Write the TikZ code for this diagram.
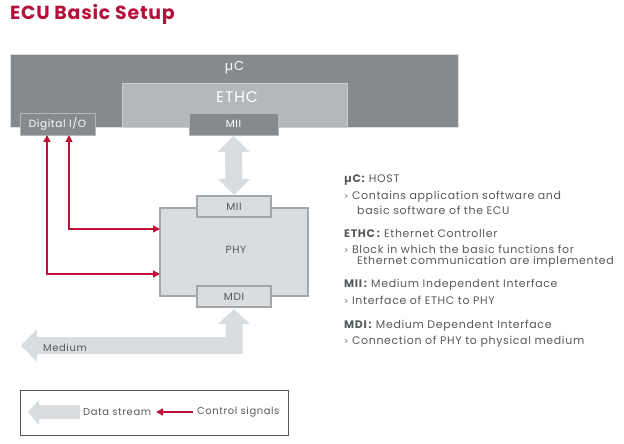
\documentclass[tikz,border=0pt]{standalone}
\usepackage{fontspec}
\setmainfont{Poppins}[LetterSpace=6]
\newfontfamily\titlefont{Poppins}[LetterSpace=4]
\usetikzlibrary{arrows.meta,calc}
\definecolor{ttl}{HTML}{B5103A}
\definecolor{sig}{HTML}{BE1238}
\definecolor{dgray}{HTML}{858A8D}
\definecolor{mgray}{HTML}{B4B8BB}
\definecolor{lgray}{HTML}{DADDE0}
\definecolor{bgray}{HTML}{A3A7AA}
\definecolor{txt}{HTML}{55595C}
\newcommand{\fs}[1]{\fontsize{#1}{#1}\selectfont}
\newcommand{\bul}{{\fs{8}>}\ }
\begin{document}
\begin{tikzpicture}[x=1bp,y=-1bp,
  box/.style={rectangle,inner sep=0,outer sep=0},
  darkbox/.style={box,fill=dgray,draw=mgray,line width=0.6bp,text=white,font=\fs{10.5}},
  phybox/.style={box,fill=lgray,draw=bgray,line width=1.2bp,text=txt,font=\fs{10.5}},
  lbl/.style={inner sep=0,anchor=west,text=txt,font=\fs{10}},
  sigline/.style={draw=sig,line width=1.5bp,{Triangle[length=7bp,width=7bp]}-{Triangle[length=7bp,width=7bp]}},
  fat/.style={fill=lgray,draw=none}]
\useasboundingbox (0,0) rectangle (624,444);
% title
\node[inner sep=0,anchor=west,text=ttl,font=\titlefont\fs{19}\bfseries] (title) at (10,14) {ECU Basic Setup};
% muC and ETHC
\node[box,fill=dgray,draw=lgray,line width=0.6bp,minimum width=448bp,minimum height=73bp] (mc) at (234,90.5) {};
\node[inner sep=0,text=white,font=\fs{13}] (mct) at (234.5,68) {µC};
\node[box,fill=mgray,draw=lgray!60!mgray,line width=0.6bp,minimum width=225bp,minimum height=44bp] (ethc) at (234.5,105) {};
\node[inner sep=0,text=white,font=\fs{15.5}] (etht) at (237,97.5) {ETHC};
\node[darkbox,minimum width=75bp,minimum height=22bp] (dio) at (57.5,124) {Digital I/O};
\node[darkbox,minimum width=89bp,minimum height=22bp] (mii1) at (233.5,124) {MII};
% PHY
\node[phybox,minimum width=148bp,minimum height=88bp] (phy) at (234,252) {};
\node[inner sep=0,text=txt,font=\fs{10.5}] (phyt) at (236,250) {PHY};
\node[phybox,minimum width=74bp,minimum height=21bp] (mii2) at (234,206.5) {MII};
\node[phybox,minimum width=74bp,minimum height=21bp] (mdi) at (234,296.5) {MDI};
% double arrow MII-MII
\path[fat] ($(mii1.south)+(0,1)$) -- ++(16,16) -- ++(-7.5,0) -- ($(mii2.north)+(8.5,-17)$) -- ++(7.5,0) -- ($(mii2.north)+(0,-1)$) -- ++(-16,-16) -- ++(7.5,0) -- ($(mii1.south)+(-8.5,17)$) -- ++(-7.5,0) -- cycle;
% medium arrow
\coordinate (medend) at (21,345.5);
\path[fat] ($(mdi.south)+(0,2)$) -- ++(16,15) -- ++(-7.5,0) -- (242.5,354) -- (37,354) -- (37,362) -- (medend) -- (37,329) -- (37,337) -- (225.5,337) -- (225.5,324) -- ++(-7.5,0) -- cycle;
\node[lbl] (medt) at (43,347.5) {Medium};
% control signals
\draw[sigline] (dio.south -| 69,0) -- (69,229) -- (phy.west |- 0,229);
\draw[sigline] (dio.south -| 47,0) -- (47,274) -- (phy.west |- 0,274);
% legend
\node[box,draw=txt,line width=0.6bp,minimum width=268bp,minimum height=45bp] (leg) at (154,412.5) {};
\coordinate (dstip) at (28,412);
\path[fat] (dstip) -- (39,400) -- (39,405) -- (80,405) -- (80,419) -- (39,419) -- (39,425) -- cycle;
\node[lbl] (dst) at (83,412) {Data stream};
\node[lbl] (cst) at (197,412) {Control signals};
\draw[draw=sig,line width=1.5bp,-{Triangle[length=7bp,width=7bp]}] (cst.west) ++(-4,0) -- (156,412);
% right text
\begin{scope}[every node/.style={lbl,font=\fs{11}}]
\node (h1) at (344,180) {\textbf{µC:} HOST};
\node (b1) at (344,197) {\bul Contains application software and};
\node (b1b) at (357,210) {basic software of the ECU};
\node (h2) at (344,233) {\textbf{ETHC\,:} Ethernet Controller};
\node (b2) at (344,249) {\bul Block in which the basic functions for};
\node (b2b) at (357,262) {Ethernet communication are implemented};
\node (h3) at (344,285) {\textbf{MII\,:} Medium Independent Interface};
\node (b3) at (344,300) {\bul Interface of ETHC to PHY};
\node (h4) at (344,326) {\textbf{MDI\,:} Medium Dependent Interface};
\node (b4) at (344,342) {\bul Connection of PHY to physical medium};
\end{scope}
\end{tikzpicture}
\end{document}
